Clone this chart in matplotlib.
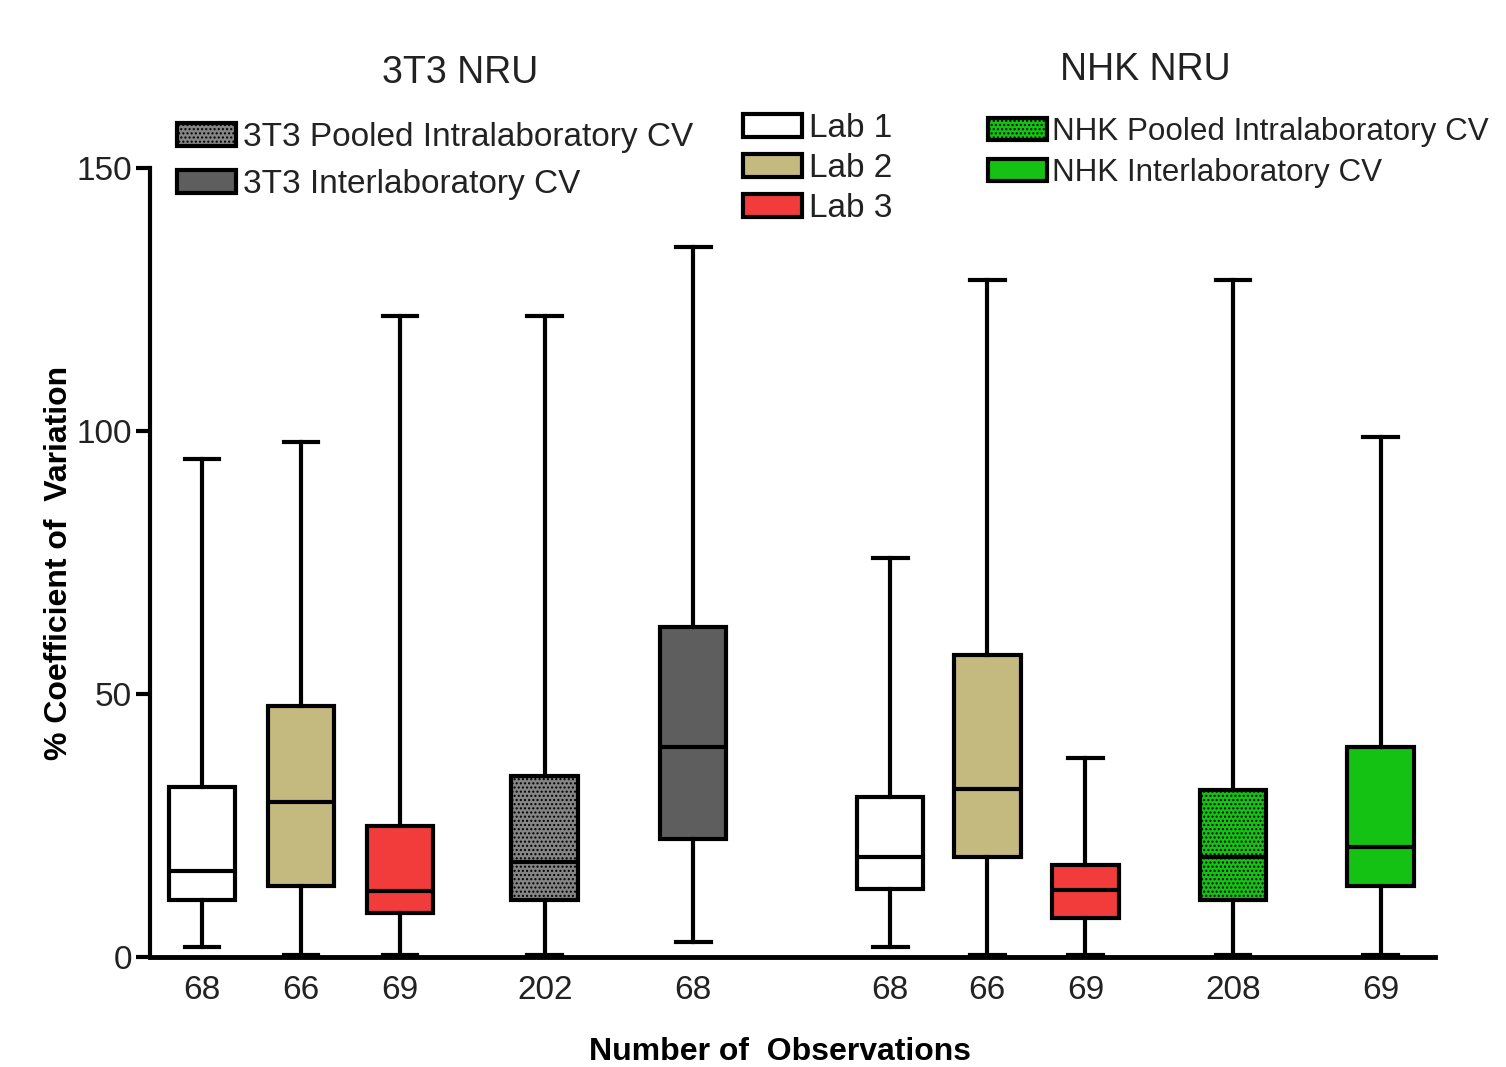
import matplotlib
matplotlib.use("Agg")
import matplotlib.pyplot as plt
from matplotlib.patches import Patch

plt.rcParams['font.family'] = ['Liberation Sans', 'DejaVu Sans']
plt.rcParams['hatch.linewidth'] = 1.0

# ---- data ----
n_labels = ["68", "66", "69", "202", "68", "68", "66", "69", "208", "69"]
positions = [1.0, 2.0, 3.0, 4.46, 5.96, 7.95, 8.93, 9.92, 11.41, 12.9]
whislo = [1.9, 0.4, 0.4, 0.4, 2.9, 1.9, 0.4, 0.4, 0.4, 0.4]
q1 = [10.8, 13.5, 8.4, 10.8, 22.4, 12.9, 19.0, 7.4, 10.8, 13.5]
med = [16.3, 29.5, 12.5, 18.1, 39.9, 19.0, 31.9, 12.7, 19.0, 20.9]
q3 = [32.3, 47.7, 24.9, 34.4, 62.7, 30.4, 57.4, 17.5, 31.7, 39.9]
whishi = [94.7, 97.9, 121.9, 121.9, 135.0, 75.9, 128.7, 37.8, 128.7, 98.9]

C_WHITE = "#ffffff"
C_TAN = "#c4b97f"
C_RED = "#f23c3c"
C_DGREY = "#5e5e5e"
C_PGREY = "#858585"
C_GREEN = "#14c214"
box_colors = [C_WHITE, C_TAN, C_RED, C_PGREY, C_DGREY,
              C_WHITE, C_TAN, C_RED, C_GREEN, C_GREEN]
box_hatches = ["", "", "", "....", "", "", "", "", "....", ""]

group_titles = ["3T3 NRU", "NHK NRU"]
leg1_labels = ["3T3 Pooled Intralaboratory CV", "3T3 Interlaboratory CV"]
leg2_labels = ["Lab 1", "Lab 2", "Lab 3"]
leg3_labels = ["NHK Pooled Intralaboratory CV", "NHK Interlaboratory CV"]

fig = plt.figure(figsize=(15.06, 10.67), dpi=100)
ax = fig.add_axes([150/1506, (1067-957)/1067, (1435-150)/1506, (957-168)/1067])

stats = []
for i in range(len(positions)):
    stats.append(dict(whislo=whislo[i], q1=q1[i], med=med[i], q3=q3[i],
                      whishi=whishi[i], fliers=[], label=n_labels[i]))

lw = 3.0
bp = ax.bxp(stats, positions=positions, widths=0.67, patch_artist=True,
            showfliers=False, capwidths=0.35,
            boxprops=dict(linewidth=lw, edgecolor="black"),
            whiskerprops=dict(linewidth=lw, color="black"),
            capprops=dict(linewidth=lw, color="black"),
            medianprops=dict(linewidth=lw, color="black"))
for patch, c, h in zip(bp['boxes'], box_colors, box_hatches):
    patch.set_facecolor(c)
    patch.set_hatch(h)
for cap in bp['caps']:
    cap.set_clip_on(False)

ax.set_xlim(0.475, 13.45)
ax.set_ylim(0, 150)
ax.set_yticks([0, 50, 100, 150])
ax.set_xticks(positions)
ax.set_xticklabels(n_labels)
ax.spines['top'].set_visible(False)
ax.spines['right'].set_visible(False)
ax.spines['left'].set_linewidth(3)
ax.spines['bottom'].set_linewidth(3.5)
ax.tick_params(axis='y', length=10, width=3, labelsize=24, pad=3, labelcolor='#222222')
ax.tick_params(axis='x', length=0, labelsize=24, pad=13, labelcolor='#222222')
ax.set_ylabel("% Coefficient of  Variation", fontsize=23, fontweight='bold')
ax.yaxis.set_label_coords(-0.059, 0.5)
ax.set_xlabel("Number of  Observations", fontsize=23, fontweight='bold')
ax.xaxis.set_label_coords(0.49, -0.102)

fig.text(460/1506, 1 - 73/1067, group_titles[0], fontsize=27, ha='center', va='center', color='#222222')
fig.text(1145/1506, 1 - 70/1067, group_titles[1], fontsize=27, ha='center', va='center', color='#222222')

def mk(c, h=""):
    return Patch(facecolor=c, edgecolor='black', linewidth=3, hatch=h)

common = dict(frameon=False, handleheight=0.69,
              borderpad=0, borderaxespad=0, labelcolor='#222222')
fig.legend([mk(C_PGREY, "...."), mk(C_DGREY)], leg1_labels,
           loc='upper left', bbox_to_anchor=(177/1506, 1 - 122/1067),
           labelspacing=0.48, fontsize=24, handlelength=1.77,
           handletextpad=0.2, **common)
fig.legend([mk(C_WHITE), mk(C_TAN), mk(C_RED)], leg2_labels,
           loc='upper left', bbox_to_anchor=(743/1506, 1 - 113/1067),
           labelspacing=0.27, fontsize=24, handlelength=1.77,
           handletextpad=0.2, **common)
fig.legend([mk(C_GREEN, "...."), mk(C_GREEN)], leg3_labels,
           loc='upper left', bbox_to_anchor=(988/1506, 1 - 117/1067),
           labelspacing=0.36, fontsize=22.6, handlelength=1.88,
           handletextpad=0.15, **common)

fig.savefig("out.png", dpi=100)
